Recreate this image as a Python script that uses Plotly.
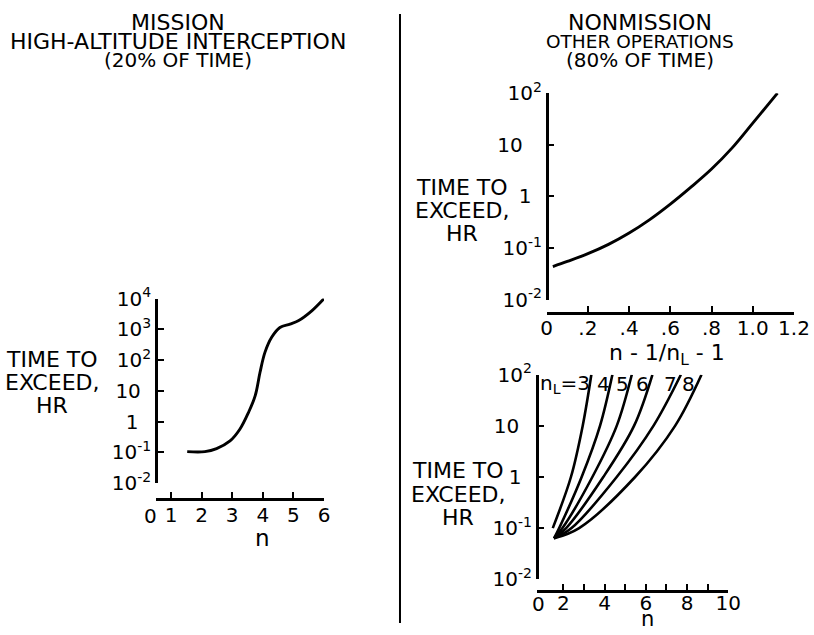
import math
import plotly.graph_objects as go

W, H = 814, 635
FONT = "DejaVu Sans, Liberation Sans, sans-serif"

# ---------------- data ----------------
# Mission (high-altitude interception): time to exceed (hr) vs load factor n
mission_n = [1.53, 2.11, 2.49, 2.93, 3.25, 3.53, 3.75, 3.91, 4.07, 4.29, 4.56, 4.89, 5.16, 5.60, 6.0]
mission_time = [0.105, 0.105, 0.132, 0.234, 0.56, 1.95, 6.8, 40, 178, 550, 1150, 1480, 1900, 4000, 10000]

# Nonmission, other operations: time to exceed vs (n-1)/(nL-1)
ratio_x = [0.03, 0.1, 0.2, 0.3, 0.4, 0.5, 0.6, 0.7, 0.8, 0.9, 1.0, 1.12]
ratio_time = [0.0437, 0.055, 0.0776, 0.1175, 0.195, 0.355, 0.708, 1.51, 3.39, 8.71, 26.3, 100]

# Nonmission vs n for several limit load factors nL
nl_labels = ["3", "4", "5", "6", "7", "8"]
nl_n = [
    [1.49, 2.37, 2.94, 3.36],
    [1.55, 1.80, 2.89, 3.78, 4.38],
    [1.55, 1.96, 3.41, 4.59, 5.32],
    [1.55, 2.14, 3.94, 5.43, 6.32],
    [1.55, 2.40, 4.59, 6.37, 7.70],
    [1.55, 2.77, 5.48, 7.42, 8.70],
]
nl_time = [
    [0.1, 1, 10, 100],
    [0.063, 0.1, 1, 10, 100],
    [0.063, 0.1, 1, 10, 100],
    [0.063, 0.1, 1, 10, 100],
    [0.063, 0.1, 1, 10, 100],
    [0.063, 0.1, 1, 10, 100],
]
nl_label_n = [0.77, 3.93, 4.85, 5.82, 7.18, 8.05]
nl_label_time = 66

log_vals = [0.01, 0.1, 1, 10, 100, 1000, 10000]
log_text = ["10<sup>-2</sup>", "10<sup>-1</sup>", "1", "10", "10<sup>2</sup>", "10<sup>3</sup>", "10<sup>4</sup>"]

left_ticks = [1, 2, 3, 4, 5, 6]
left_ticktext = ["1", "2", "3", "4", "5", "6"]
ratio_ticks = [0, 0.2, 0.4, 0.6, 0.8, 1.0, 1.2]
ratio_ticktext = ["0", ".2", ".4", ".6", ".8", "1.0", "1.2"]
n_ticks = [2, 3, 4, 5, 6, 7, 8, 9, 10]
n_ticktext = ["2", "", "4", "", "6", "", "8", "", "10"]

# ---------------- layout helpers ----------------
# The captured picture shows the figure slightly inset/scaled; positions below are
# given in picture pixels and converted to paper fractions.
OX, SX = 6.0, 0.973
OY, SY = 14.0, 0.957


def X(r):
    return min(max((r - OX) / SX / W, 0.0), 1.0)


def Y(r):
    return min(max(1 - (r - OY) / SY / H, 0.0), 1.0)


NB = "&nbsp;"
TH = "&#8201;"


def padded(texts, pad_ten, pad_one):
    out = []
    for t in texts:
        if t == "10":
            out.append(t + pad_ten)
        elif t == "1":
            out.append(t + pad_one)
        else:
            out.append(t)
    return out


fig = go.Figure()
main_line = dict(color="black", width=2.9, shape="spline", smoothing=1.0)

fig.add_trace(go.Scatter(x=mission_n, y=mission_time, mode="lines", line=main_line,
                         xaxis="x", yaxis="y", showlegend=False, hoverinfo="skip"))
fig.add_trace(go.Scatter(x=ratio_x, y=ratio_time, mode="lines", line=main_line,
                         xaxis="x2", yaxis="y2", showlegend=False, hoverinfo="skip"))
for ns, ts in zip(nl_n, nl_time):
    fig.add_trace(go.Scatter(x=ns, y=ts, mode="lines",
                             line=dict(color="black", width=2.6, shape="spline", smoothing=1.0),
                             xaxis="x3", yaxis="y3", showlegend=False, hoverinfo="skip"))

axis_common = dict(showline=True, linecolor="black", linewidth=2.6, ticks="inside", ticklen=6,
                   tickwidth=2, tickcolor="black", showgrid=False, zeroline=False,
                   tickfont=dict(family=FONT, size=20, color="black"), fixedrange=True)

fig.update_layout(
    width=W, height=H, margin=dict(l=0, r=0, t=0, b=0),
    paper_bgcolor="white", plot_bgcolor="white",
    font=dict(family=FONT, color="black"),
    xaxis=dict(axis_common, domain=[X(156), X(324)], range=[0.51, 6.0], anchor="free",
               position=Y(498), tickvals=left_ticks, ticktext=left_ticktext, ticklabelstandoff=-3),
    yaxis=dict(axis_common, domain=[Y(482), Y(298)], type="log", range=[-2, 4], anchor="free",
               position=X(156), tickvals=log_vals,
               ticktext=padded(log_text, NB + TH, NB * 2)),
    xaxis2=dict(axis_common, domain=[X(546.7), X(794)], range=[0, 1.2], anchor="free",
                position=Y(312), tickvals=ratio_ticks, ticktext=ratio_ticktext, ticklabelstandoff=-3),
    yaxis2=dict(axis_common, domain=[Y(299), Y(93)], type="log", range=[-2, 2], anchor="free",
                position=X(546.7), tickvals=log_vals[:5],
                ticktext=padded(log_text[:5], NB * 3, NB + TH)),
    xaxis3=dict(axis_common, domain=[X(536.7), X(728.3)], range=[0.71, 10], anchor="free",
                position=Y(590), tickvals=n_ticks, ticktext=n_ticktext, ticklabelstandoff=-7),
    yaxis3=dict(axis_common, domain=[Y(578), Y(374)], type="log", range=[-2, 2], anchor="free",
                position=X(536.7), tickvals=log_vals[:5],
                ticktext=padded(log_text[:5], NB * 2, NB + TH)),
)

ann = []


def text(x, y, s, size=20, xref="paper", yref="paper", xanchor="center", yanchor="middle"):
    ann.append(dict(x=x, y=y, xref=xref, yref=yref, text=s, showarrow=False,
                    font=dict(family=FONT, size=size, color="black"),
                    xanchor=xanchor, yanchor=yanchor, align="center"))


# headings
text(X(178), Y(22.5), "MISSION", size=22)
text(X(178), Y(41), "HIGH-ALTITUDE INTERCEPTION", size=22)
text(X(178), Y(60), "(20% OF TIME)", size=20)
text(X(640), Y(22.5), "NONMISSION", size=22)
text(X(640), Y(41), "OTHER OPERATIONS", size=18.5)
text(X(640), Y(60), "(80% OF TIME)", size=20)

# y titles (one annotation per line for the tight line spacing)
ylab_lines = ["TIME TO", "EXCEED,", "HR"]
for cx, cy in [(52, 382), (462, 210), (458, 493)]:
    for i, s in enumerate(ylab_lines):
        text(X(cx), Y(cy - 23 + 23 * i), s, size=22)

# x titles
text(X(263), Y(537), "n", size=23)
text(X(667), Y(354), "n - 1/n<sub>L</sub> - 1", size=22)
text(X(648), Y(618), "n", size=21)

# zero labels at the broken start of the n axes
text(X(151), Y(515), "0", size=20)
text(X(539), Y(603), "0", size=20)

# nL labels (log axis: annotation y given as log10 of the value)
for lab, xn in zip(nl_labels, nl_label_n):
    ly = math.log10(nl_label_time)
    if lab == "3":
        text(xn, ly, "n<sub>L</sub>=3", size=20, xref="x3", yref="y3", xanchor="left")
    else:
        text(xn, ly, lab, size=20, xref="x3", yref="y3")

fig.update_layout(annotations=ann)

# divider between the two halves
fig.add_shape(type="line", xref="paper", yref="paper", x0=X(400), x1=X(400), y0=Y(632), y1=Y(8),
              line=dict(color="black", width=2))

fig.write_html("out.html")
